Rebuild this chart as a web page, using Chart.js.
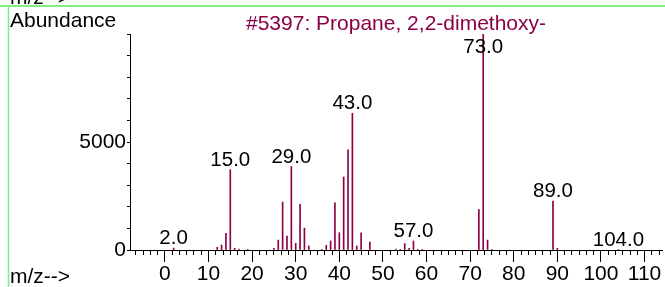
<!DOCTYPE html>
<html>
<head>
<meta charset="utf-8">
<script src="https://cdn.jsdelivr.net/npm/chart.js@4"></script>
<style>
  body { margin: 0; background: #fff; }
  canvas { display: block; }
</style>
</head>
<body>
<canvas id="spectrumChart" width="665" height="287"></canvas>
<script>
// peaks of the spectrum
const mzValues = [2, 12, 13, 14, 15, 16, 17, 19, 25, 26, 27, 28, 29, 30, 31, 32, 33, 36, 37, 38, 39, 40, 41, 42, 43, 44, 45, 47, 53, 54, 55, 56, 57, 58, 59, 72, 73, 74, 75, 89, 90, 104];
const abundances = [90, 125, 230, 770, 3720, 80, 40, 25, 80, 460, 2220, 645, 3865, 310, 2120, 1015, 190, 30, 220, 420, 2180, 800, 3380, 4640, 6330, 185, 800, 370, 45, 30, 300, 80, 415, 30, 20, 1875, 9999, 460, 30, 2270, 80, 20];
const labelledPeaks = [2, 15, 29, 43, 57, 73, 89, 104];
const yTickLabels = [0, 5000];
const xLabelStep = 10;
const xMinorStep = 10 / 6;

const title = '#5397: Propane, 2,2-dimethoxy-';
const peakColor = '#8c0046';
const font = 'Liberation Sans, Arial, sans-serif';

const decorations = {
    id: 'decorations',
    afterDraw(chart) {
        const ctx = chart.ctx;
        ctx.save();
        // green frame
        ctx.strokeStyle = '#80ee80';
        ctx.lineWidth = 2;
        ctx.beginPath();
        ctx.moveTo(0, 6);
        ctx.lineTo(665, 6);
        ctx.stroke();
        ctx.lineWidth = 1.5;
        ctx.beginPath();
        ctx.moveTo(8.5, 6);
        ctx.lineTo(8.5, 287);
        ctx.stroke();

        ctx.fillStyle = '#000';
        ctx.textBaseline = 'alphabetic';
        ctx.font = '21px ' + font;
        ctx.textAlign = 'left';
        ctx.fillText('m/z-->', 10, 4);
        ctx.fillText('m/z-->', 10, 283);
        ctx.fillText('Abundance', 10, 27);

        ctx.fillStyle = peakColor;
        ctx.textAlign = 'center';
        ctx.fillText(title, 396, 30);

        // peak labels
        const meta = chart.getDatasetMeta(0);
        ctx.font = '20.5px ' + font;
        ctx.fillStyle = '#000';
        labelledPeaks.forEach(mz => {
            const el = meta.data[mzValues.indexOf(mz)];
            const y = Math.max(el.y - 4, chart.chartArea.top + 19);
            ctx.fillText(mz.toFixed(1), el.x, y);
        });
        ctx.restore();
    }
};

new Chart(document.getElementById('spectrumChart'), {
    type: 'bar',
    data: {
        datasets: [{
            data: mzValues.map((mz, i) => ({ x: mz, y: abundances[i] })),
            backgroundColor: peakColor,
            barThickness: 1,
            xAxisID: 'x',
            yAxisID: 'y'
        }]
    },
    options: {
        responsive: false,
        devicePixelRatio: 1,
        animation: false,
        layout: { padding: { top: 34, right: 3, left: 0, bottom: 0 } },
        plugins: { legend: { display: false }, tooltip: { enabled: false } },
        scales: {
            x: {
                type: 'linear',
                axis: 'x',
                position: 'bottom',
                weight: 0,
                min: -8,
                max: 114,
                offset: false,
                ticks: { stepSize: xMinorStep, includeBounds: false, autoSkip: false, display: false },
                grid: { offset: false, drawOnChartArea: false, tickLength: 5, color: '#000', tickColor: '#000' },
                border: { display: true, color: '#000', width: 1 },
                afterFit: s => { s.height = 0; }
            },
            x2: {
                type: 'linear',
                axis: 'x',
                position: 'bottom',
                weight: 1,
                min: -8,
                max: 114,
                offset: false,
                ticks: {
                    stepSize: xLabelStep, includeBounds: false, autoSkip: false, maxRotation: 0,
                    padding: 0, color: '#000', font: { family: font, size: 21 }
                },
                grid: { offset: false, drawOnChartArea: false, tickLength: 12, color: '#000', tickColor: '#000' },
                border: { display: false },
                afterFit: s => { s.height = 37; }
            },
            y: {
                type: 'linear',
                position: 'left',
                min: 0,
                max: 10000,
                ticks: {
                    stepSize: 1000, autoSkip: false, padding: 1, color: '#000',
                    font: { family: font, size: 21 },
                    callback: v => yTickLabels.includes(v) ? String(v) : ''
                },
                grid: { drawOnChartArea: false, tickLength: 3, color: '#000', tickColor: '#000' },
                border: { display: true, color: '#000', width: 1 },
                afterFit: s => { s.width = 130; }
            }
        }
    },
    plugins: [decorations]
});
</script>
</body>
</html>
